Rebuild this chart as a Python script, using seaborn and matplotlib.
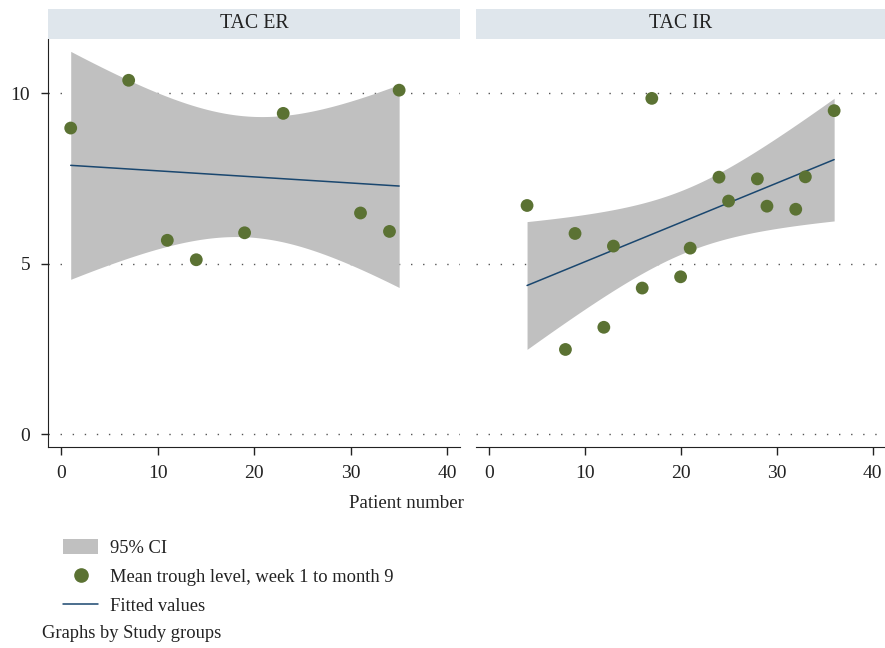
import numpy as np
import pandas as pd
import seaborn as sns
import matplotlib.pyplot as plt
from matplotlib.patches import Patch
from matplotlib.lines import Line2D

# patient number / mean trough level
er_patient = [1, 7, 11, 14, 19, 23, 31, 34, 35]
er_trough = [8.98, 10.38, 5.69, 5.12, 5.91, 9.41, 6.49, 5.95, 10.09]

ir_patient = [4, 8, 9, 12, 13, 16, 17, 20, 21, 24, 25, 28, 29, 32, 33, 36]
ir_trough = [6.71, 2.49, 5.89, 3.14, 5.52, 4.29, 9.85, 4.62, 5.46, 7.54, 6.84,
             7.49, 6.69, 6.60, 7.55, 9.49]

groups = ["TAC ER", "TAC IR"]
y_ticks = [0, 5, 10]
x_ticks = [0, 10, 20, 30, 40]

# t(0.975, n-2)
t_crit = {9: 2.3646, 16: 2.1448}

POINT = "#5b7233"
FIT = "#1a476f"
CI = "#c0c0c0"
STRIP = "#dfe6ec"
INK = "#222222"

sns.set_style("white")
plt.rcParams["font.family"] = ["Liberation Serif", "DejaVu Serif"]
plt.rcParams["font.size"] = 14


def lfitci(x, y):
    x = np.asarray(x, float)
    y = np.asarray(y, float)
    n = len(x)
    b, a = np.polyfit(x, y, 1)
    resid = y - (a + b * x)
    s = np.sqrt(np.sum(resid ** 2) / (n - 2))
    grid = np.linspace(x.min(), x.max(), 200)
    fit = a + b * grid
    se = s * np.sqrt(1 / n + (grid - x.mean()) ** 2 / np.sum((x - x.mean()) ** 2))
    half = t_crit[n] * se
    return grid, fit, fit - half, fit + half


def panel(ax, x, y, left):
    grid, fit, lo, hi = lfitci(x, y)
    for t in y_ticks:
        ax.axhline(t, color="#555555", lw=1, ls=(0, (1, 7.7)), zorder=0)
    ax.fill_between(grid, lo, hi, color=CI, lw=0, zorder=1)
    sns.scatterplot(x=x, y=y, ax=ax, color=POINT, s=85, edgecolor="none", zorder=3)
    sns.lineplot(x=grid, y=fit, ax=ax, color=FIT, lw=1.1, zorder=2)
    ax.set_xlim(-1.32, 41.3)
    ax.set_ylim(-0.36, 11.59)
    ax.set_xticks(x_ticks)
    ax.set_yticks(y_ticks)
    for s in ["top", "right"]:
        ax.spines[s].set_visible(False)
    ax.spines["bottom"].set_color(INK)
    ax.tick_params(axis="x", direction="out", length=6, width=1, color=INK,
                   bottom=True, pad=7, labelsize=14, labelcolor=INK)
    if left:
        ax.spines["left"].set_color(INK)
        ax.tick_params(axis="y", direction="out", length=5, width=1, color=INK,
                       left=True, pad=8, labelsize=14, labelcolor=INK)
    else:
        ax.spines["left"].set_visible(False)
        ax.tick_params(axis="y", left=False, labelleft=False)
    ax.set_xlabel("")
    ax.set_ylabel("")
    ax.grid(False)


W, H = 885, 648
fig = plt.figure(figsize=(W / 100, H / 100), dpi=100)

boxes = [(48.3, 460), (476, 885)]
data = [(er_patient, er_trough), (ir_patient, ir_trough)]
for i, ((x0, x1), (px, py)) in enumerate(zip(boxes, data)):
    ax = fig.add_axes([x0 / W, 1 - 446.7 / H, (x1 - x0) / W, (446.7 - 39) / H])
    panel(ax, px, py, left=(i == 0))
    strip = fig.add_axes([x0 / W, 1 - 39 / H, (x1 - x0) / W, 30 / H])
    strip.set_facecolor(STRIP)
    strip.set_xticks([])
    strip.set_yticks([])
    for s in strip.spines.values():
        s.set_visible(False)
    strip.text(0.5, 0.5, groups[i], ha="center", va="center", transform=strip.transAxes,
               fontsize=14.3, color=INK)

fig.text(406 / W, 1 - 503 / H, "Patient number", ha="center", va="center",
         fontsize=13.6, color=INK)

handles = [
    Patch(facecolor=CI, edgecolor="none"),
    Line2D([], [], ls="none", marker="o", color=POINT, markersize=9.5),
    Line2D([], [], color=FIT, lw=1.1),
]
labels = ["95% CI", "Mean trough level, week 1 to month 9", "Fitted values"]
fig.legend(handles, labels, loc="upper left", bbox_to_anchor=(63 / W, 1 - 539 / H),
           frameon=False, borderpad=0, borderaxespad=0, handlelength=1.9,
           handleheight=0.9, handletextpad=0.65, labelspacing=0.6, fontsize=13.3,
           labelcolor=INK)

fig.text(42 / W, 1 - 634 / H, "Graphs by Study groups", ha="left", va="center",
         fontsize=13.3, color=INK)

fig.savefig("out.png", dpi=100)
